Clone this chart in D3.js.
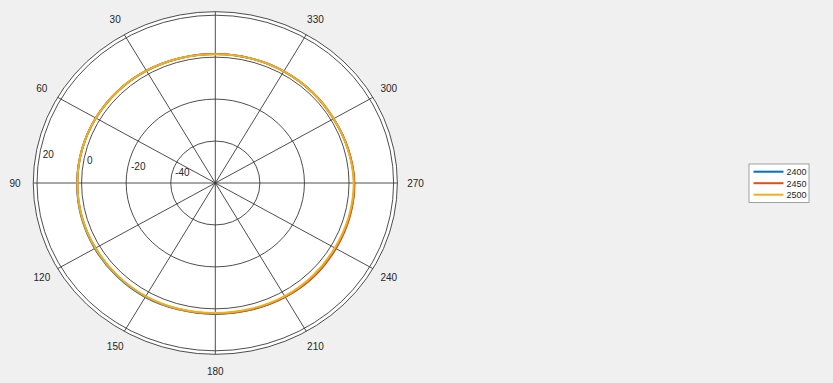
<!DOCTYPE html>
<html>
<head>
<meta charset="utf-8">
<script src="https://cdn.jsdelivr.net/npm/d3@7"></script>
<style>
  html, body { margin: 0; padding: 0; background: #f0f0f0; }
  svg { display: block; }
  text { font-family: "Liberation Sans", Arial, Helvetica, sans-serif; fill: #262626; }
</style>
</head>
<body>
<svg id="chart" width="833" height="383"></svg>
<script>
// Angles in degrees (0 at top, increasing counter-clockwise)
const angles = [0, 15, 30, 45, 60, 75, 90, 105, 120, 135, 150, 165,
                180, 195, 210, 225, 240, 255, 270, 285, 300, 315, 330, 345];

// Gain in dB for each frequency
const gain2400 = [1.5, 1.6, 1.8, 1.9, 1.9, 1.9, 2.0, 2.2, 2.4, 2.6, 2.8, 2.5,
                  2.4, 2.5, 2.7, 2.7, 2.4, 2.3, 2.3, 1.7, 1.3, 1.4, 1.5, 1.5];
const gain2450 = [1.5, 1.6, 1.8, 1.9, 1.9, 1.9, 1.9, 2.0, 2.1, 2.3, 2.5, 2.3,
                  2.2, 2.4, 2.7, 2.7, 2.4, 2.4, 2.4, 1.8, 1.3, 1.4, 1.5, 1.5];
const gain2500 = [1.4, 1.6, 1.8, 1.9, 1.9, 1.9, 1.9, 2.0, 2.1, 2.3, 2.4, 2.2,
                  2.0, 2.1, 2.3, 2.2, 1.9, 2.0, 2.1, 1.6, 1.3, 1.4, 1.5, 1.5];

const seriesNames = ["2400", "2450", "2500"];
const seriesColors = ["#0072BD", "#D95319", "#EDB120"];

const rhoTicks = [-40, -20, 0, 20];
const thetaTicks = [0, 30, 60, 90, 120, 150, 180, 210, 240, 270, 300, 330];

const svg = d3.select("#chart");

// Polar frame geometry (slightly elliptical)
const cx = 215.3, cy = 183;
const rx = 178.3, ry = 167.8;
const outerK = 1.021;
const labelK = 1.1;

const rScale = d3.scaleLinear().domain([-60, 20]).range([0, 1]);
const aScale = d3.scaleLinear().domain([0, 360]).range([0, 2 * Math.PI]);

const px = (v, deg) => cx - rx * rScale(v) * Math.sin(aScale(deg));
const py = (v, deg) => cy - ry * rScale(v) * Math.cos(aScale(deg));

const grid = svg.append("g");

// Plot area
grid.append("ellipse")
  .attr("cx", cx).attr("cy", cy)
  .attr("rx", rx * outerK).attr("ry", ry * outerK)
  .attr("fill", "#ffffff")
  .attr("stroke", "#3a3a3a").attr("stroke-width", 0.9);

// Rho rings
grid.selectAll("ellipse.ring").data(rhoTicks).join("ellipse")
  .attr("class", "ring")
  .attr("cx", cx).attr("cy", cy)
  .attr("rx", d => rx * rScale(d)).attr("ry", d => ry * rScale(d))
  .attr("fill", "none")
  .attr("stroke", "#3a3a3a").attr("stroke-width", 0.9);

// Spokes
grid.selectAll("line.spoke").data(thetaTicks.filter(d => d < 180)).join("line")
  .attr("class", "spoke")
  .attr("x1", d => cx + rx * outerK * Math.sin(aScale(d)))
  .attr("y1", d => cy + ry * outerK * Math.cos(aScale(d)))
  .attr("x2", d => cx - rx * outerK * Math.sin(aScale(d)))
  .attr("y2", d => cy - ry * outerK * Math.cos(aScale(d)))
  .attr("stroke", "#3a3a3a").attr("stroke-width", 0.9);

// Theta labels
svg.append("g").selectAll("text").data(thetaTicks).join("text")
  .attr("x", d => cx - rx * outerK * labelK * Math.sin(aScale(d)))
  .attr("y", d => cy - ry * outerK * labelK * Math.cos(aScale(d)))
  .attr("text-anchor", "middle")
  .attr("dominant-baseline", "central")
  .attr("font-size", 10)
  .text(d => d);

// Rho labels
const rhoLabelAngle = 82;
svg.append("g").selectAll("text").data(rhoTicks).join("text")
  .attr("x", d => px(d, rhoLabelAngle) + 4)
  .attr("y", d => py(d, rhoLabelAngle) - 1.5)
  .attr("text-anchor", "start")
  .attr("font-size", 10)
  .text(d => d);

// Pattern curves
const series = [gain2400, gain2450, gain2500];
const line = d3.line()
  .x(d => px(d.v, d.a))
  .y(d => py(d.v, d.a))
  .curve(d3.curveCardinalClosed.tension(0));

svg.append("g").selectAll("path").data(series).join("path")
  .attr("d", s => line(s.map((v, i) => ({ a: angles[i], v }))))
  .attr("fill", "none")
  .attr("stroke", (s, i) => seriesColors[i])
  .attr("stroke-width", 2);

// Legend
const lg = svg.append("g").attr("transform", "translate(749,164)");
lg.append("rect")
  .attr("width", 60).attr("height", 38.5)
  .attr("fill", "#ffffff")
  .attr("stroke", "#8c8c8c").attr("stroke-width", 0.8);
const items = lg.selectAll("g").data(seriesNames).join("g")
  .attr("transform", (d, i) => `translate(0,${7.7 + i * 11.5})`);
items.append("line")
  .attr("x1", 4.5).attr("x2", 34.5)
  .attr("stroke", (d, i) => seriesColors[i]).attr("stroke-width", 2);
items.append("text")
  .attr("x", 37.5).attr("y", 0.5)
  .attr("dominant-baseline", "central")
  .attr("font-size", 9)
  .text(d => d);
</script>
</body>
</html>
